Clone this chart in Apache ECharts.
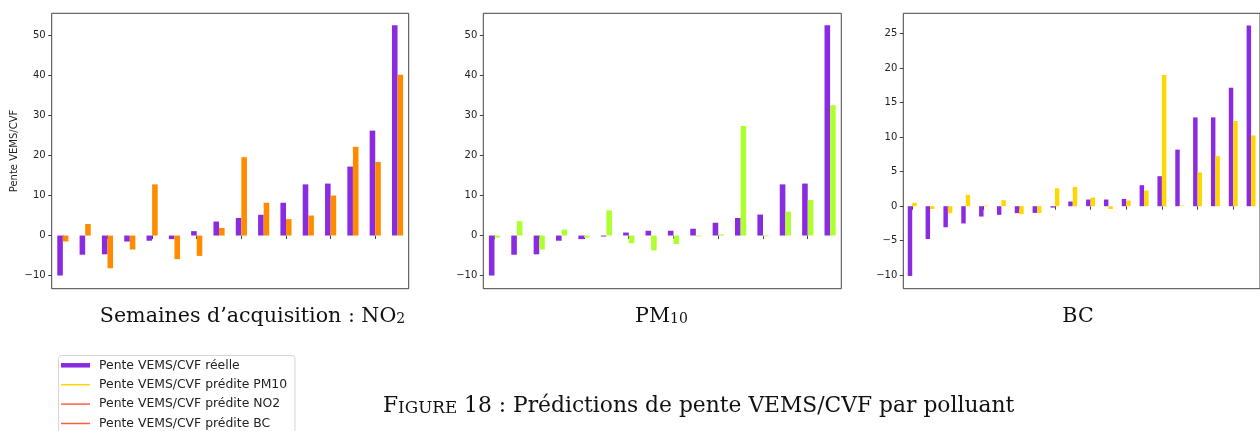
<!DOCTYPE html>
<html><head><meta charset="utf-8">
<script src="https://cdn.jsdelivr.net/npm/echarts@6/dist/echarts.min.js"></script>
<style>html,body{margin:0;padding:0;background:#fff}#c{width:1260px;height:431px}</style>
</head><body><div id="c"></div>
<script>
// ---- data ----
const weeksNO2 = ['S1','S2','S3','S4','S5','S6','S7','S8','S9','S10','S11','S12','S13','S14','S15','S16'];
const no2Real = [-10.0, -4.8, -4.7, -1.5, -1.3, -0.9, 1.1, 3.5, 4.4, 5.2, 8.2, 12.8, 13.0, 17.25, 26.25, 52.6];
const no2Pred = [-1.5, 2.9, -8.2, -3.5, 12.8, -5.9, -5.1, 1.9, 19.6, 8.2, 4.1, 5.0, 10.0, 22.2, 18.4, 40.2];

const weeksPM10 = ['S1','S2','S3','S4','S5','S6','S7','S8','S9','S10','S11','S12','S13','S14','S15','S16'];
const pm10Real = [-10.0, -4.8, -4.7, -1.3, -0.9, -0.25, 0.75, 1.2, 1.2, 1.7, 3.2, 4.4, 5.25, 12.8, 13.0, 52.6];
const pm10Pred = [-0.5, 3.6, -3.5, 1.5, -0.5, 6.3, -1.9, -3.7, -2.1, -0.2, 0.3, 27.4, -0.2, 6.0, 8.9, 32.6];

const weeksBC = ['S1','S2','S3','S4','S5','S6','S7','S8','S9','S10','S11','S12','S13','S14','S15','S16','S17','S18','S19','S20'];
const bcReal = [-10.1, -4.75, -3.05, -2.5, -1.5, -1.25, -1.0, -0.97, -0.2, 0.68, 0.97, 0.97, 1.06, 3.05, 4.35, 8.2, 12.87, 12.87, 17.17, 26.17];
const bcPred = [0.5, -0.4, -1.0, 1.65, 0.1, 0.87, -1.15, -0.97, 2.6, 2.8, 1.26, -0.4, 0.82, 2.27, 19.0, 0.1, 4.9, 7.26, 12.34, 10.26];

const ticksA = [-10, 0, 10, 20, 30, 40, 50];
const ticksBC = [-10, -5, 0, 5, 10, 15, 20, 25];

const yAxisTitle = 'Pente VEMS/CVF';
const legendLabels = ['Pente VEMS/CVF réelle', 'Pente VEMS/CVF prédite PM10', 'Pente VEMS/CVF prédite NO2', 'Pente VEMS/CVF prédite BC'];
const panelTitles = ['Semaines d’acquisition : NO{sub|2}', 'PM{sub|10}', 'BC'];

// ---- styles ----
const PURPLE = '#8A2BE2', ORANGE = '#FF8C00', GREEN = '#ADFF2F', GOLD = '#FFD700';
const legendColors = [PURPLE, '#FFD700', '#FF6347', '#F4623F'];
const legendWidths = [4.5, 1.5, 1.5, 1.5];

const minus = v => (v < 0 ? '\u2212' + Math.abs(v) : String(v));

const grids = [
  {left: 51.7, top: 13.3, width: 357, height: 275.4},
  {left: 483.3, top: 13.3, width: 358, height: 275.4},
  {left: 903.3, top: 13.3, width: 358.6, height: 275.4}
].map(g => Object.assign(g, {show: true, borderColor: '#444', borderWidth: 1, backgroundColor: 'transparent'}));

function xAx(i, cats) {
  return {
    type: 'category', gridIndex: i, data: cats,
    axisLine: {show: false},
    axisTick: {show: true, alignWithLabel: true, inside: false, length: 3.5, lineStyle: {color: '#444'}},
    axisLabel: {show: false}, splitLine: {show: false}
  };
}
function yAx(i, min, max, ticks, name) {
  return {
    type: 'value', gridIndex: i, min: min, max: max,
    name: name || '', nameLocation: 'middle', nameGap: 32, nameRotate: 90,
    nameTextStyle: {fontFamily: 'DejaVu Sans', fontSize: 10, color: '#222'},
    axisLine: {show: false},
    axisTick: {show: true, length: 3.5, customValues: ticks, lineStyle: {color: '#444'}},
    axisLabel: {show: true, customValues: ticks, formatter: minus, margin: 6,
      fontFamily: 'DejaVu Sans', fontSize: 10, color: '#222'},
    splitLine: {show: false}
  };
}
function bar(i, data, color) {
  return {type: 'bar', xAxisIndex: i, yAxisIndex: i, data: data, barWidth: '25%',
    barGap: '0%', barCategoryGap: '50%', itemStyle: {color: color}, silent: true};
}

const graphic = [];
function rich(fs) {
  return {
    m: {fontFamily: 'DejaVu Serif', fontSize: fs, lineHeight: fs * 1.24, verticalAlign: 'bottom', fill: '#111'},
    sub: {fontFamily: 'DejaVu Serif', fontSize: fs * 0.68, lineHeight: fs * 0.71, verticalAlign: 'bottom', fill: '#111'},
    sc: {fontFamily: 'DejaVu Serif', fontSize: fs * 0.77, lineHeight: fs * 1.075, verticalAlign: 'bottom', fill: '#111'}
  };
}
const titleX = [252.5, 661.5, 1078];
panelTitles.forEach((t, k) => {
  const txt = t.replace(/^([^{]+)/, '{m|$1}');
  graphic.push({type: 'text', x: titleX[k], y: 314, style: {
    text: txt, rich: rich(20.6), textAlign: 'center', textVerticalAlign: 'middle', verticalAlign: 'middle',
    fontFamily: 'DejaVu Serif', fontSize: 20.6, fill: '#111'}});
});
graphic.push({type: 'text', x: 383, y: 403.5, style: {
  text: '{m|F}{sc|IGURE}{m| 18 : Prédictions de pente VEMS/CVF par polluant}', rich: rich(21.8),
  textAlign: 'left', textVerticalAlign: 'middle', verticalAlign: 'middle',
  fontFamily: 'DejaVu Serif', fontSize: 21.8, fill: '#111'}});
// legend
graphic.push({type: 'rect', shape: {x: 58.5, y: 355.5, width: 236.5, height: 90, r: 3},
  style: {fill: '#fff', stroke: '#d6d6d6', lineWidth: 1}});
const rowY = [365.3, 384.7, 404.1, 423.5];
legendLabels.forEach((lab, k) => {
  graphic.push({type: 'line', shape: {x1: 61, y1: rowY[k], x2: 90, y2: rowY[k]},
    style: {stroke: legendColors[k], lineWidth: legendWidths[k]}});
  graphic.push({type: 'text', x: 99, y: rowY[k], style: {text: lab, fontFamily: 'DejaVu Sans',
    fontSize: 12.4, fill: '#222', textAlign: 'left', textVerticalAlign: 'middle', verticalAlign: 'middle'}});
});

const chart = echarts.init(document.getElementById('c'), null, {renderer: 'canvas'});
chart.setOption({
  animation: false,
  backgroundColor: '#fff',
  grid: grids,
  xAxis: [xAx(0, weeksNO2), xAx(1, weeksPM10), xAx(2, weeksBC)],
  yAxis: [yAx(0, -13.3, 55.6, ticksA, yAxisTitle), yAx(1, -13.3, 55.6, ticksA), yAx(2, -11.95, 27.95, ticksBC)],
  series: [
    bar(0, no2Real, PURPLE), bar(0, no2Pred, ORANGE),
    bar(1, pm10Real, PURPLE), bar(1, pm10Pred, GREEN),
    bar(2, bcReal, PURPLE), bar(2, bcPred, GOLD)
  ],
  graphic: graphic
});
</script>
</body></html>
